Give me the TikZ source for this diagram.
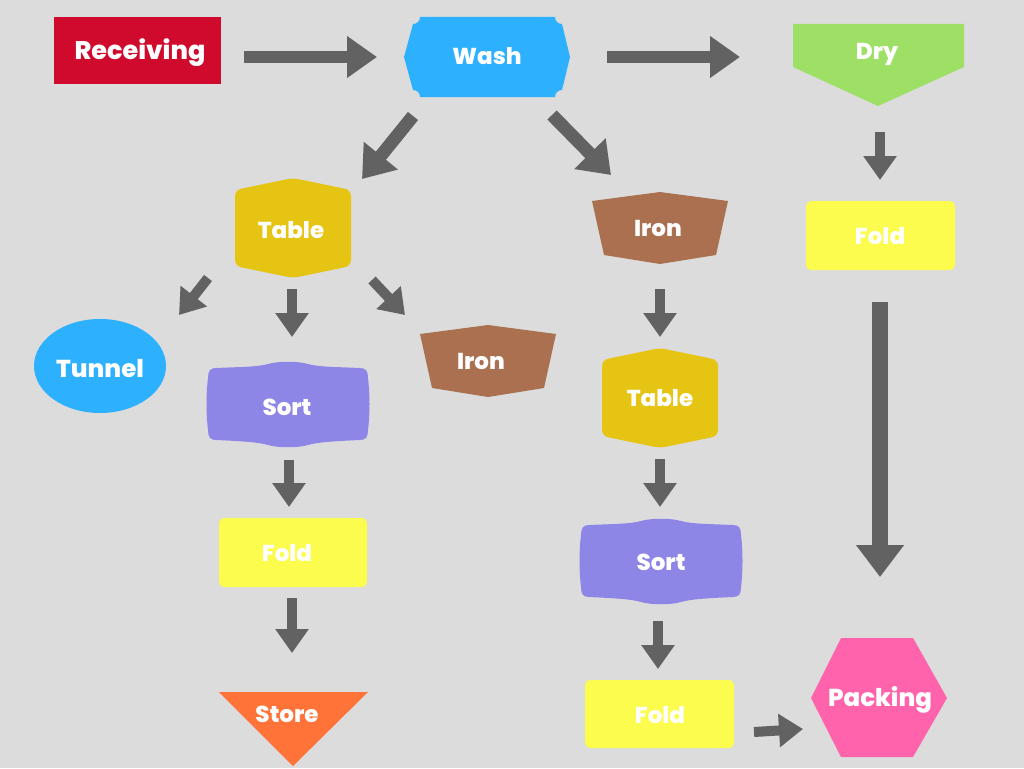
\documentclass[tikz,border=0pt]{standalone}
\usepackage{fontspec}
\setmainfont{Poppins}[BoldFont={Poppins ExtraBold}]
\usetikzlibrary{arrows.meta}
\definecolor{bg}{HTML}{DCDCDC}
\definecolor{agray}{HTML}{626262}
\definecolor{cred}{HTML}{CF0A2C}
\definecolor{cblue}{HTML}{2DB1FF}
\definecolor{cgreen}{HTML}{9DE065}
\definecolor{cyellow}{HTML}{FCFC4E}
\definecolor{cgold}{HTML}{E6C413}
\definecolor{cbrown}{HTML}{AA7050}
\definecolor{cpurple}{HTML}{8E86E6}
\definecolor{corange}{HTML}{FF7338}
\definecolor{cpink}{HTML}{FF63AC}
\tikzset{
  lbl/.style={text=white,font=\bfseries\fontsize{23}{25}\selectfont,inner sep=0pt,text height=16pt,text depth=0pt},
  lblbig/.style={lbl,font=\bfseries\fontsize{24.5}{26}\selectfont,text height=17pt},
  bigarrow/.style={draw=agray,line width=12pt,-{Triangle[length=30pt,width=40pt]}},
  diagarrow/.style={draw=agray,line width=13pt,-{Triangle[length=30pt,width=42pt]}},
  smallarrow/.style={draw=agray,line width=10pt,-{Triangle[length=24pt,width=32pt]}},
  longarrow/.style={draw=agray,line width=16pt,-{Triangle[length=32pt,width=46pt]}},
  tableshape/.pic={\fill[cgold,rounded corners=6pt] (-58,-38) -- (0,-50) -- (58,-38) -- (58,38) -- (0,50) -- (-58,38) -- cycle;},
  ironshape/.pic={\fill[cbrown] (-68,-27) -- (0,-36) -- (68,-27) -- (56,27) -- (0,36) -- (-56,27) -- cycle;},
  sortshape/.pic={\fill[cpurple] (-72,-36) .. controls (-50,-37) and (-30,-37) .. (-20,-40) .. controls (-10,-43) and (10,-43) .. (20,-40) .. controls (30,-37) and (50,-37) .. (72,-36) .. controls (78,-36) and (80,-33) .. (80,-26) .. controls (82,-10) and (82,10) .. (80,26) .. controls (80,33) and (78,36) .. (72,36) .. controls (50,37) and (30,38) .. (20,41) .. controls (10,44) and (-10,44) .. (-20,41) .. controls (-30,38) and (-50,37) .. (-72,36) .. controls (-78,36) and (-80,33) .. (-80,26) .. controls (-82,10) and (-82,-10) .. (-80,-26) .. controls (-80,-33) and (-78,-36) .. (-72,-36) -- cycle;},
}
\begin{document}
\begin{tikzpicture}[x=1pt,y=-1pt]
\fill[bg] (0,0) rectangle (1024,768);
\useasboundingbox (0,0) rectangle (1024,768);
% shapes
\fill[cred] (54,17) rectangle (221,84);
\fill[cblue] (420,17) -- (555,17) .. controls (555,21) and (558,24) .. (562,24) -- (570,57) -- (562,90) .. controls (558,90) and (555,93) .. (555,97) -- (420,97) .. controls (420,93) and (417,90) .. (413,90) -- (404,57) -- (413,24) .. controls (417,24) and (420,21) .. (420,17) -- cycle;
\fill[cgreen] (793,24) -- (964,24) -- (964,67) -- (878,106) -- (793,67) -- cycle;
\fill[cyellow,rounded corners=5pt] (806,201) rectangle (955,270);
\fill[cyellow,rounded corners=5pt] (219,518) rectangle (367,587);
\fill[cyellow,rounded corners=5pt] (585,680) rectangle (734,748);
\fill[cblue] (100,366) ellipse [x radius=66, y radius=47];
\fill[corange] (219,692) -- (368,692) -- (293,766) -- cycle;
\fill[cpink] (841,638) -- (913,638) -- (947,698) -- (913,757) -- (841,757) -- (811,698) -- cycle;
\pic at (293,228) {tableshape};
\pic at (660,398) {tableshape};
\pic at (660,228) {ironshape};
\pic at (488,361) {ironshape};
\pic at (288,404) {sortshape};
\pic at (661,561) {sortshape};
% labels
\node[lblbig,font=\bfseries\fontsize{25.5}{27}\selectfont] (receiving) at (140,51) {Receiving};
\node[lbl] (wash) at (487,56.5) {Wash};
\node[lbl] (dry) at (877,51.5) {Dry};
\node[lbl] (table1) at (291,230) {Table};
\node[lbl] (iron2) at (658,228) {Iron};
\node[lbl] (fold3) at (880,236) {Fold};
\node[lblbig] (tunnel) at (100,369) {Tunnel};
\node[lbl] (sort1) at (287,407) {Sort};
\node[lbl] (iron1) at (481,361) {Iron};
\node[lbl] (table2) at (660,398) {Table};
\node[lbl] (sort2) at (661,562) {Sort};
\node[lbl] (fold1) at (287,553) {Fold};
\node[lbl] (store) at (287,714) {Store};
\node[lbl] (fold2) at (660,715) {Fold};
\node[lblbig] (packing) at (880,697.5) {Packing};
% arrow end points
\coordinate (a1s) at (244,57); \coordinate (a1e) at (377,57);
\coordinate (a2s) at (607,57); \coordinate (a2e) at (740,57);
\coordinate (a3s) at (880,132); \coordinate (a3e) at (880,180);
\coordinate (a4s) at (880,302); \coordinate (a4e) at (880,577);
\coordinate (a5s) at (413,116); \coordinate (a5e) at (362,179);
\coordinate (a6s) at (552,115); \coordinate (a6e) at (611,175);
\coordinate (a7s) at (208,278); \coordinate (a7e) at (179,315);
\coordinate (a8s) at (292,289); \coordinate (a8e) at (292,337);
\coordinate (a9s) at (372,280); \coordinate (a9e) at (405,315);
\coordinate (a10s) at (289,460); \coordinate (a10e) at (289,507);
\coordinate (a11s) at (292,598); \coordinate (a11e) at (292,653);
\coordinate (a12s) at (660,289); \coordinate (a12e) at (660,337);
\coordinate (a13s) at (660,459); \coordinate (a13e) at (660,507);
\coordinate (a14s) at (658,621); \coordinate (a14e) at (658,669);
\coordinate (a15s) at (754,732); \coordinate (a15e) at (803,729);
% arrows
\draw[bigarrow] (a1s) -- (a1e);
\draw[bigarrow] (a2s) -- (a2e);
\draw[smallarrow] (a3s) -- (a3e);
\draw[longarrow] (a4s) -- (a4e);
\draw[diagarrow] (a5s) -- (a5e);
\draw[diagarrow] (a6s) -- (a6e);
\draw[smallarrow] (a7s) -- (a7e);
\draw[smallarrow] (a8s) -- (a8e);
\draw[smallarrow] (a9s) -- (a9e);
\draw[smallarrow] (a10s) -- (a10e);
\draw[smallarrow] (a11s) -- (a11e);
\draw[smallarrow] (a12s) -- (a12e);
\draw[smallarrow] (a13s) -- (a13e);
\draw[smallarrow] (a14s) -- (a14e);
\draw[smallarrow] (a15s) -- (a15e);
\end{tikzpicture}
\end{document}
